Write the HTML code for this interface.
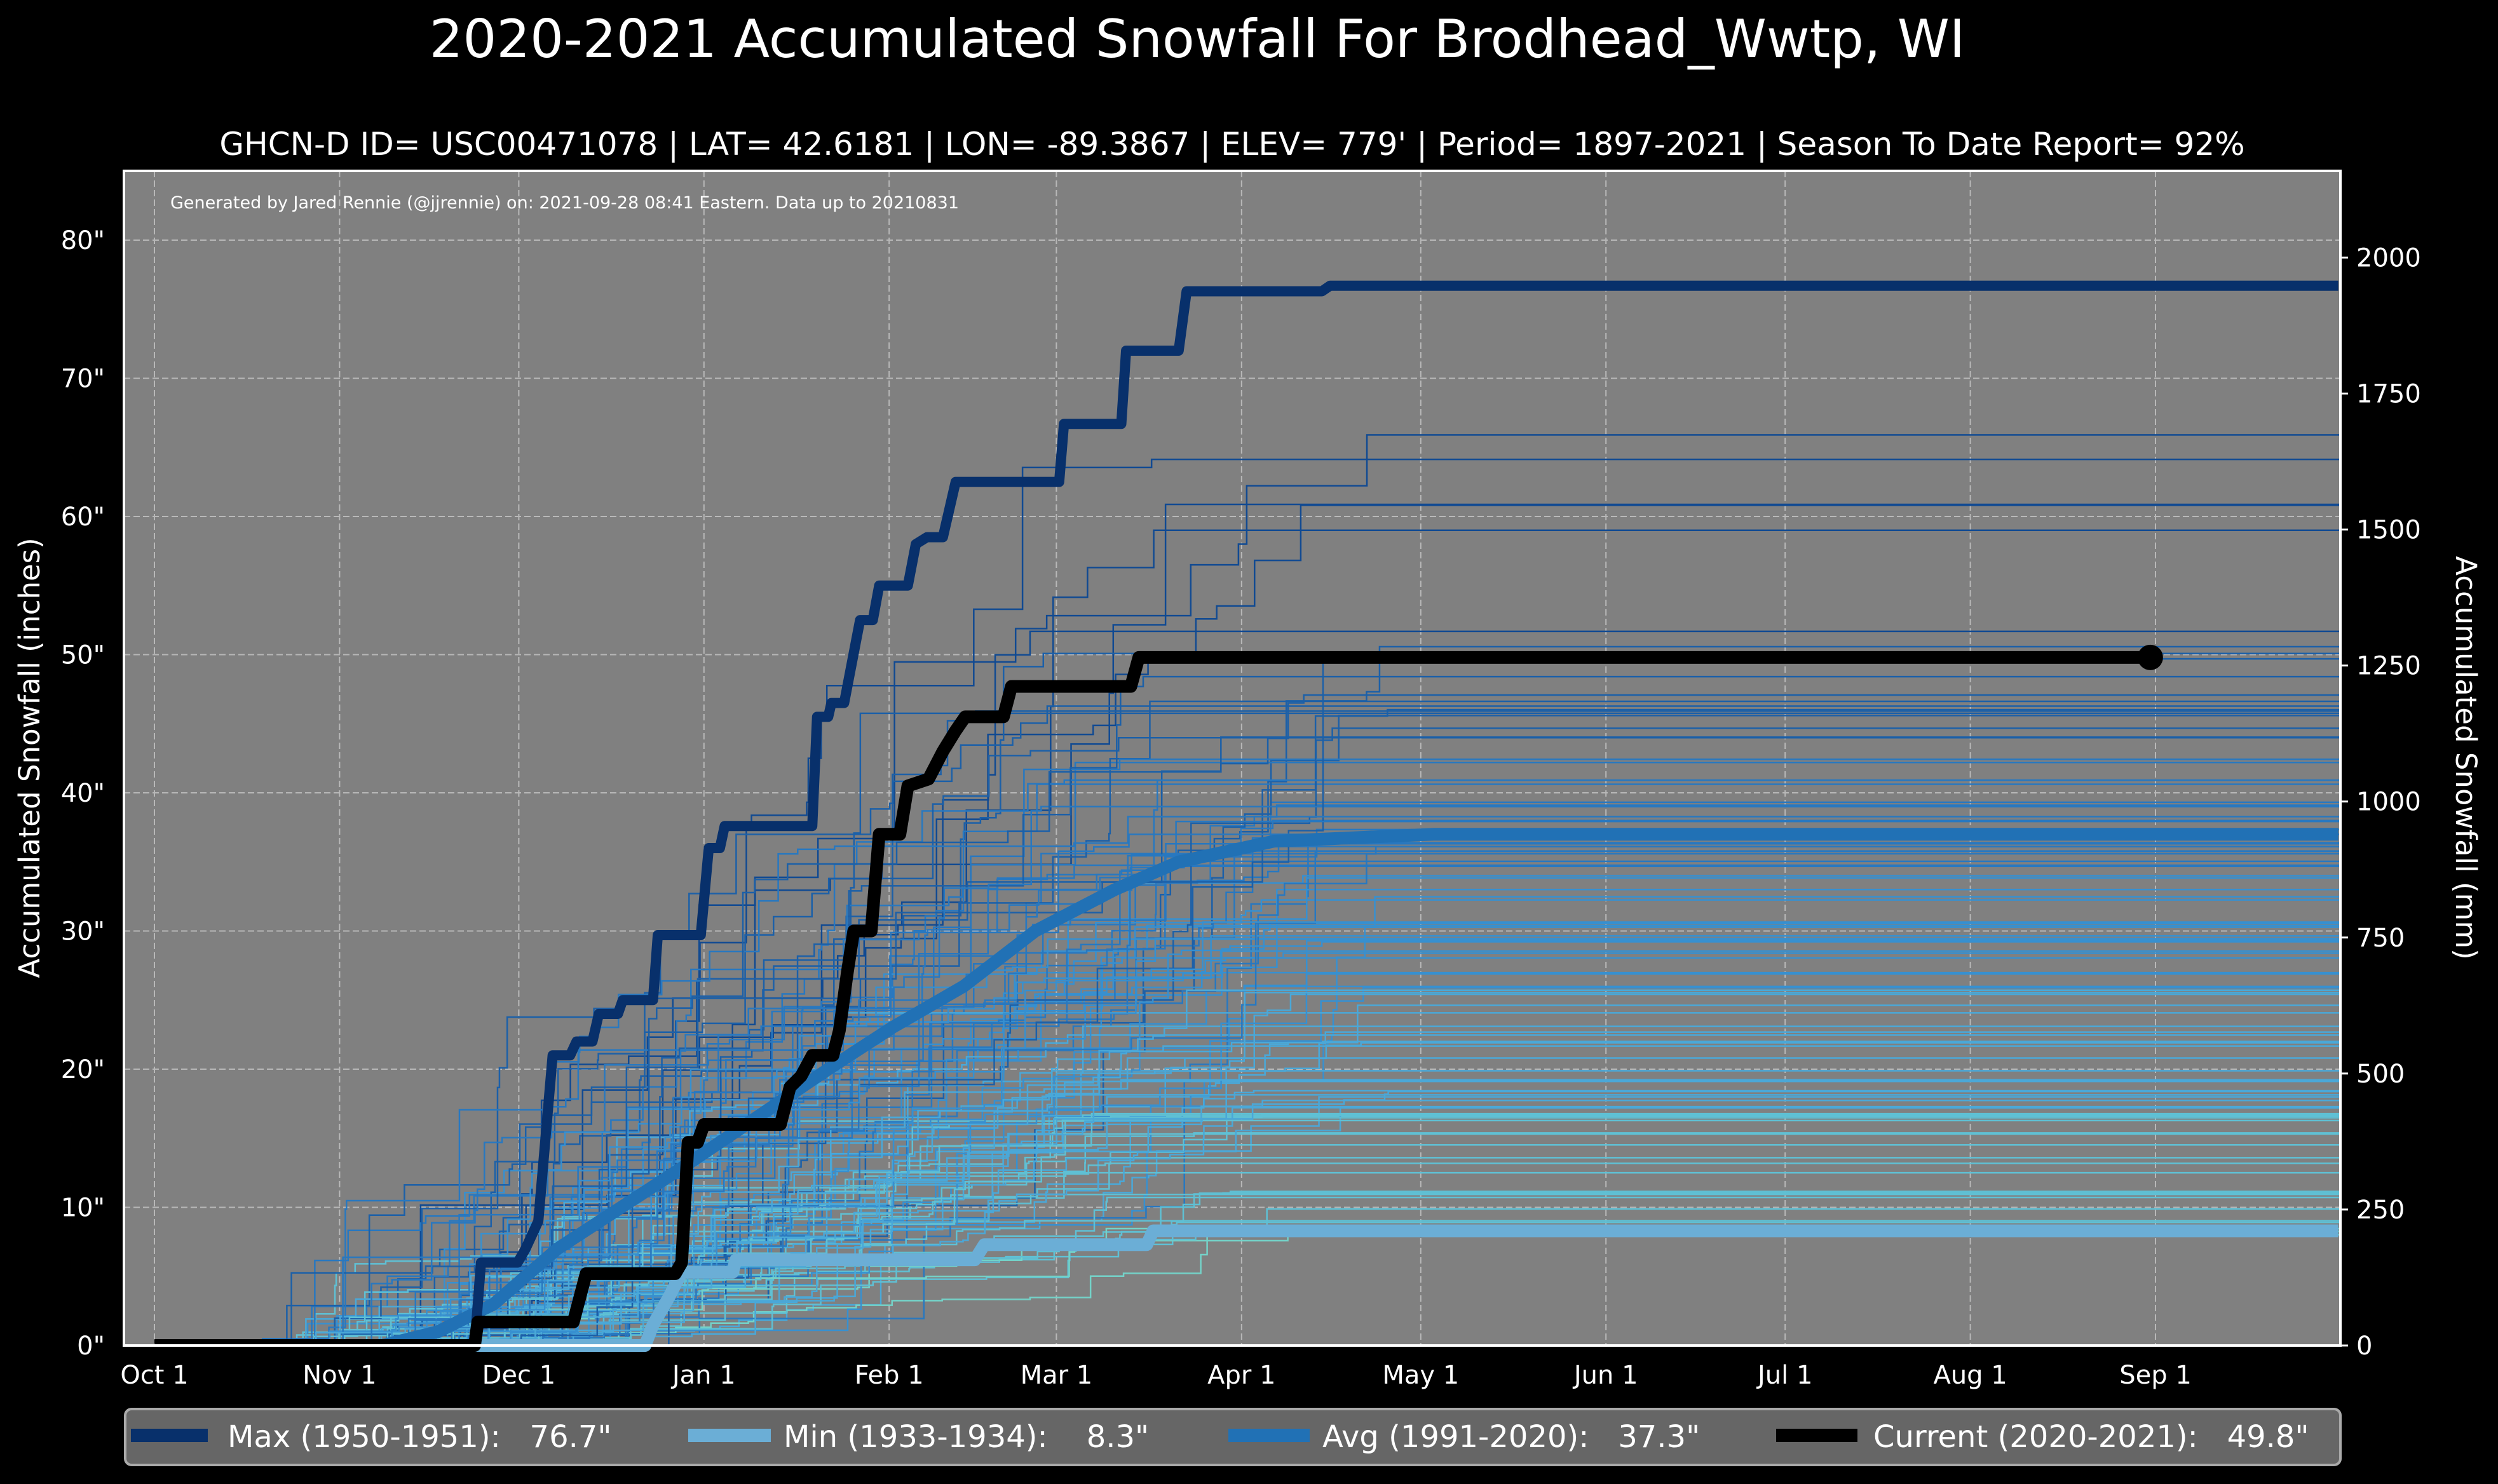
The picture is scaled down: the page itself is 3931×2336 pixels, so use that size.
<!DOCTYPE html>
<html><head><meta charset="utf-8"><style>
html,body{margin:0;padding:0;background:#000;}
svg{display:block;font-family:"DejaVu Sans","Liberation Sans",sans-serif;}
text{white-space:pre;}
</style></head><body>
<svg id="s" width="3931" height="2336" xmlns="http://www.w3.org/2000/svg" xml:space="preserve">
<rect width="3931" height="2336" fill="#000"/>
<rect x="195" y="269" width="3488" height="1849" fill="#808080"/>
<g id="grid"></g>
<g id="bg"></g>
<g id="main"></g>
<rect x="195" y="269" width="3488" height="1849" fill="none" stroke="#fff" stroke-width="4"/>
<g id="ticks" fill="#fff" font-size="40"></g>
<text x="1884" y="90" fill="#fff" font-size="83" text-anchor="middle">2020-2021 Accumulated Snowfall For Brodhead_Wwtp, WI</text>
<text x="1939" y="244" fill="#fff" font-size="50" text-anchor="middle">GHCN-D ID= USC00471078 | LAT= 42.6181 | LON= -89.3867 | ELEV= 779' | Period= 1897-2021 | Season To Date Report= 92%</text>
<text x="268" y="328" fill="#fff" font-size="27">Generated by Jared Rennie (@jjrennie) on: 2021-09-28 08:41 Eastern. Data up to 20210831</text>
<text transform="translate(62,1193) rotate(-90)" fill="#fff" font-size="45" text-anchor="middle">Accumulated Snowfall (inches)</text>
<text transform="translate(3865,1193) rotate(90)" fill="#fff" font-size="45" text-anchor="middle">Accumulated Snowfall (mm)</text>
<rect x="197" y="2218" width="3486" height="88" rx="10" fill="#666" stroke="#aaa" stroke-width="4"/>
<rect x="206" y="2249" width="121" height="21" fill="#08306b"/>
<text x="358" y="2278" fill="#fff" font-size="48">Max (1950-1951):   76.7"</text>
<rect x="1083" y="2249" width="130" height="21" fill="#6baed6"/>
<text x="1233" y="2278" fill="#fff" font-size="48">Min (1933-1934):    8.3"</text>
<rect x="1933" y="2249" width="128" height="21" fill="#2171b5"/>
<text x="2081" y="2278" fill="#fff" font-size="48">Avg (1991-2020):   37.3"</text>
<rect x="2795" y="2249" width="128" height="21" fill="#000"/>
<text x="2948" y="2278" fill="#fff" font-size="48">Current (2020-2021):   49.8"</text>
</svg>
<script>
var NS="http://www.w3.org/2000/svg";
function X(d){return 243+d*9.4;}
function Y(i){return 2118-i*21.75;}
function el(p,t,a,txt){var e=document.createElementNS(NS,t);for(var k in a)e.setAttribute(k,a[k]);if(txt!=null)e.textContent=txt;p.appendChild(e);return e;}
var grid=document.getElementById('grid'),tk=document.getElementById('ticks');
var months=[["Oct 1",0],["Nov 1",31],["Dec 1",61],["Jan 1",92],["Feb 1",123],["Mar 1",151],["Apr 1",182],["May 1",212],["Jun 1",243],["Jul 1",273],["Aug 1",304],["Sep 1",335]];
months.forEach(function(m){var x=X(m[1]);el(grid,'line',{x1:x,x2:x,y1:269,y2:2118,stroke:'#b8b8b8','stroke-width':2,'stroke-dasharray':'10,5'});el(tk,'text',{x:x,y:2178,'text-anchor':'middle'},m[0]);});
for(var i=0;i<=80;i+=10){var y=Y(i);el(grid,'line',{x1:195,x2:3683,y1:y,y2:y,stroke:'#b8b8b8','stroke-width':2,'stroke-dasharray':'10,5'});el(tk,'text',{x:165,y:y+14,'text-anchor':'end'},i+'"');}
for(var mm=0;mm<=2000;mm+=250){var y=Y(mm/25.4);el(tk,'line',{x1:3683,x2:3695,y1:y,y2:y,stroke:'#fff','stroke-width':3});el(tk,'text',{x:3708,y:y+14},mm);}
var sd=777;function R(){sd=(sd*1103515245+12345)%2147483648;return sd/2147483648;}
var bg=document.getElementById('bg');
var cols=['#74d2c8','#5fc0d4','#4aa8d8','#3790d0','#2878c0','#1c60a8','#114a92'];
for(var n=0;n<110;n++){
 var T=8+R()*42; if(n<8)T=50+R()*16; if(n<2)T=60+R()*6;
 var ne=10+Math.floor(R()*14),ev=[];
 var st=15+R()*50,en=150+R()*60;
 for(var k=0;k<ne;k++){ev.push(st+R()*(en-st));}
 ev.sort(function(a,b){return a-b;});
 var w=[],s=0;for(k=0;k<ne;k++){var v=Math.pow(R(),2)+0.05;w.push(v);s+=v;}
 var acc=0,pts=X(-5)+','+Y(0)+' '+X(ev[0])+','+Y(0);
 for(k=0;k<ne;k++){acc+=w[k]/s*T;pts+=' '+X(ev[k])+','+Y(acc);var nx=k<ne-1?ev[k+1]:366;pts+=' '+X(nx)+','+Y(acc);}
 var ci=Math.min(6,Math.floor(T/60*7));
 el(bg,'polyline',{points:pts,fill:'none',stroke:cols[ci],'stroke-width':2.5});
}
var main=document.getElementById('main');
function stepLine(arr,col,w){var p='';for(var i=0;i<arr.length;i++){var d=(arr[i][0]-97)/3.75,v=arr[i][1];p+=X(d)+','+Y(v)+' ';}el(main,'polyline',{points:p,fill:'none',stroke:col,'stroke-width':w,'stroke-linejoin':'round'});}
stepLine([[97,0],[240,0],[275,1],[310,3],[350,7],[390,10],[430,13],[475,16.5],[520,20],[560,23],[605,26],[650,30],[700,33],[740,35],[800,36.5],[900,37],[1468,37]],'#2171b5',20);
stepLine([[97,0],[405,0],[410,1.5],[420,3.5],[428,5.3],[460,5.3],[462,6.2],[612,6.2],[618,7.3],[720,7.3],[724,8.3],[1468,8.3]],'#6baed6',20);
stepLine([[97,0],[298,0],[302,6],[325,6],[330,7],[338,9],[347,21],[358,21],[362,22],[372,22],[376,24],[388,24],[391,25],[410,25],[413,29.7],[440,29.7],[445,36],[452,36],[455,37.6],[510,37.6],[513,45.5],[520,45.5],[522,46.5],[530,46.5],[540,52.5],[548,52.5],[552,55],[570,55],[575,58],[582,58.5],[592,58.5],[600,62.5],[665,62.5],[668,66.7],[704,66.7],[707,72],[740,72],[745,76.3],[830,76.3],[835,76.7],[1468,76.7]],'#08306b',16);
stepLine([[97,0],[298,0],[300,1.7],[360,1.7],[368,5.2],[424,5.2],[428,6],[432,14.7],[438,14.7],[442,16],[490,16],[496,18.7],[503,19.5],[510,21],[523,21],[527,22.8],[532,27],[536,30],[547,30],[552,37],[565,37],[570,40.5],[583,41],[592,43],[600,44.5],[606,45.5],[630,45.5],[635,47.7],[710,47.7],[715,49.8],[1350,49.8]],'#000',20);
el(main,'circle',{cx:X((1350-97)/3.75),cy:Y(49.8),r:20,fill:'#000'});
</script>
</body></html>
